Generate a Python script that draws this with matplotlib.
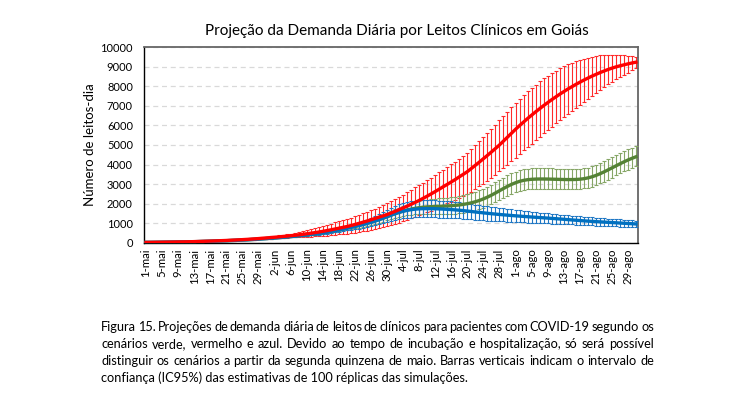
import numpy as np
import matplotlib
matplotlib.use("Agg")
import matplotlib.pyplot as plt

plt.rcParams['font.family'] = ['Lato', 'DejaVu Sans']

# one point per day, 1-mai .. 31-ago
days = np.arange(123)

tick_labels = ['1-mai', '5-mai', '9-mai', '13-mai', '17-mai', '21-mai', '25-mai', '29-mai',
               '2-jun', '6-jun', '10-jun', '14-jun', '18-jun', '22-jun', '26-jun', '30-jun',
               '4-jul', '8-jul', '12-jul', '16-jul', '20-jul', '24-jul', '28-jul',
               '1-ago', '5-ago', '9-ago', '13-ago', '17-ago', '21-ago', '25-ago', '29-ago']
yticks = [0, 1000, 2000, 3000, 4000, 5000, 6000, 7000, 8000, 9000, 10000]

# cenario vermelho
red_mean = [30, 32, 35, 38, 41, 44, 47, 50, 54, 57,
            60, 65, 71, 77, 84, 91, 98, 106, 114, 122,
            130, 140, 150, 161, 172, 184, 197, 211, 226, 243,
            260, 276, 293, 311, 330, 350, 371, 393, 416, 442,
            470, 498, 528, 560, 595, 632, 671, 712, 755, 797,
            840, 890, 945, 1000, 1060, 1120, 1185, 1250, 1320, 1385,
            1450, 1530, 1615, 1700, 1790, 1880, 1975, 2070, 2170, 2280,
            2390, 2505, 2625, 2745, 2870, 2990, 3115, 3240, 3375, 3505,
            3640, 3800, 3965, 4130, 4300, 4470, 4645, 4820, 5000, 5200,
            5400, 5600, 5800, 5990, 6170, 6350, 6520, 6690, 6850, 7010,
            7160, 7310, 7450, 7590, 7720, 7850, 7970, 8090, 8200, 8310,
            8410, 8510, 8600, 8690, 8770, 8850, 8920, 8985, 9040, 9090,
            9140, 9185, 9225]
red_err_hi = [4, 4, 4, 5, 5, 6, 6, 7, 7, 8,
              9, 10, 11, 12, 13, 15, 16, 18, 20, 22,
              24, 26, 28, 31, 34, 37, 40, 44, 48, 52,
              57, 63, 69, 75, 82, 90, 110, 125, 145, 170,
              200, 220, 240, 260, 280, 300, 320, 340, 360, 375,
              390, 405, 420, 435, 450, 465, 480, 508, 535, 563,
              590, 612, 635, 657, 680, 707, 735, 762, 790, 805,
              820, 835, 850, 862, 875, 887, 900, 915, 930, 945,
              960, 995, 1030, 1065, 1100, 1137, 1175, 1212, 1250, 1275,
              1300, 1325, 1350, 1362, 1375, 1387, 1400, 1395, 1390, 1385,
              1380, 1360, 1340, 1320, 1300, 1262, 1225, 1187, 1150, 1100,
              1050, 1000, 950, 887, 825, 760, 693, 627, 560, 490,
              420, 350, 280]
red_err_lo = [3, 3, 4, 4, 4, 5, 5, 5, 6, 6,
              7, 8, 9, 10, 11, 12, 13, 15, 16, 18,
              19, 21, 23, 25, 27, 29, 32, 35, 38, 42,
              46, 50, 55, 60, 65, 70, 80, 95, 110, 130,
              150, 170, 190, 210, 230, 252, 275, 297, 320, 345,
              370, 395, 420, 445, 470, 495, 520, 540, 560, 580,
              600, 620, 640, 660, 680, 700, 720, 740, 760, 790,
              820, 850, 880, 910, 940, 970, 1000, 1037, 1075, 1112,
              1150, 1182, 1215, 1247, 1280, 1297, 1315, 1332, 1350, 1375,
              1400, 1425, 1450, 1450, 1450, 1450, 1450, 1437, 1425, 1412,
              1400, 1375, 1350, 1325, 1300, 1262, 1225, 1187, 1150, 1100,
              1050, 1000, 950, 887, 825, 762, 700, 637, 575, 512,
              450, 365, 280]

# cenario verde
green_mean = [30, 32, 34, 37, 40, 43, 46, 49, 52, 55,
              58, 62, 67, 72, 78, 84, 90, 97, 104, 111,
              118, 126, 135, 144, 154, 164, 175, 187, 200, 214,
              228, 242, 257, 273, 290, 308, 327, 347, 368, 390,
              413, 437, 462, 490, 520, 553, 590, 635, 680, 720,
              762, 806, 852, 900, 950, 1003, 1060, 1122, 1190, 1262,
              1338, 1415, 1490, 1560, 1625, 1682, 1730, 1770, 1802, 1826,
              1843, 1855, 1864, 1872, 1880, 1890, 1903, 1920, 1942, 1970,
              2005, 2050, 2105, 2170, 2250, 2340, 2440, 2550, 2665, 2780,
              2890, 2990, 3075, 3145, 3195, 3230, 3250, 3260, 3265, 3265,
              3262, 3257, 3251, 3245, 3240, 3237, 3237, 3242, 3255, 3280,
              3320, 3375, 3445, 3530, 3625, 3725, 3830, 3935, 4040, 4140,
              4235, 4320, 4400]
green_err_hi = [2, 2, 2, 2, 3, 3, 3, 3, 3, 4,
                4, 4, 5, 5, 5, 6, 6, 7, 7, 8,
                8, 9, 10, 10, 11, 12, 13, 14, 15, 16,
                18, 19, 21, 22, 24, 26, 28, 31, 34, 37,
                40, 44, 48, 52, 56, 60, 66, 72, 78, 84,
                90, 100, 110, 120, 130, 140, 152, 164, 176, 188,
                200, 216, 232, 248, 264, 280, 298, 316, 334, 352,
                370, 380, 390, 400, 410, 420, 432, 444, 456, 468,
                480, 492, 504, 516, 528, 540, 544, 548, 552, 556,
                560, 560, 560, 560, 560, 560, 558, 556, 554, 552,
                550, 546, 542, 538, 534, 530, 530, 530, 530, 530,
                530, 532, 534, 536, 538, 540, 540, 540, 540, 540,
                540, 540, 540]
green_err_lo = [2, 2, 2, 2, 3, 3, 3, 3, 3, 4,
                4, 4, 5, 5, 5, 6, 6, 7, 7, 8,
                8, 9, 10, 10, 11, 12, 13, 14, 15, 16,
                18, 19, 21, 22, 24, 26, 28, 31, 34, 37,
                40, 44, 48, 52, 56, 60, 65, 70, 75, 80,
                85, 94, 103, 112, 121, 130, 140, 150, 160, 170,
                180, 196, 212, 228, 244, 260, 284, 308, 332, 356,
                380, 388, 396, 404, 412, 420, 424, 428, 432, 436,
                440, 444, 448, 452, 456, 460, 464, 468, 472, 476,
                480, 484, 488, 492, 496, 500, 502, 504, 506, 508,
                510, 508, 506, 504, 502, 500, 499, 498, 497, 496,
                495, 494, 493, 492, 491, 490, 490, 490, 490, 490,
                490, 490, 490]

# cenario azul
blue_mean = [30, 32, 34, 37, 40, 43, 46, 49, 52, 55,
             58, 62, 67, 72, 78, 84, 90, 97, 104, 111,
             118, 126, 135, 144, 154, 164, 175, 187, 200, 214,
             228, 242, 257, 273, 290, 308, 327, 347, 368, 390,
             413, 437, 462, 490, 520, 553, 590, 628, 670, 710,
             752, 796, 842, 890, 940, 995, 1055, 1120, 1190, 1265,
             1345, 1425, 1500, 1565, 1620, 1665, 1700, 1725, 1742, 1752,
             1755, 1753, 1748, 1740, 1730, 1718, 1705, 1690, 1672, 1652,
             1630, 1607, 1583, 1560, 1538, 1516, 1495, 1475, 1456, 1438,
             1420, 1403, 1387, 1371, 1356, 1341, 1327, 1313, 1299, 1285,
             1271, 1256, 1241, 1226, 1210, 1194, 1178, 1162, 1146, 1131,
             1117, 1104, 1091, 1079, 1067, 1055, 1043, 1031, 1019, 1007,
             995, 983, 972]
blue_err_hi = [2, 2, 2, 2, 3, 3, 3, 3, 3, 4,
               4, 4, 5, 5, 5, 6, 6, 7, 7, 8,
               8, 9, 10, 10, 11, 12, 13, 14, 15, 16,
               18, 19, 21, 22, 24, 26, 28, 31, 34, 37,
               40, 46, 52, 58, 64, 70, 80, 90, 100, 110,
               120, 136, 152, 168, 184, 200, 226, 252, 278, 304,
               330, 353, 376, 400, 410, 420, 430, 430, 430, 430,
               430, 428, 426, 424, 422, 420, 414, 408, 402, 396,
               390, 384, 378, 372, 366, 360, 352, 344, 336, 328,
               320, 312, 304, 296, 288, 280, 272, 264, 256, 248,
               240, 236, 232, 228, 224, 220, 216, 212, 208, 204,
               200, 198, 196, 194, 192, 190, 187, 184, 181, 178,
               175, 172, 170]
blue_err_lo = [2, 2, 2, 2, 3, 3, 3, 3, 3, 4,
               4, 4, 5, 5, 5, 6, 6, 7, 7, 8,
               8, 9, 10, 10, 11, 12, 13, 14, 15, 16,
               18, 19, 21, 22, 24, 26, 28, 31, 34, 37,
               40, 46, 52, 58, 64, 70, 78, 86, 94, 102,
               110, 124, 138, 152, 166, 180, 200, 220, 240, 260,
               280, 300, 320, 340, 360, 380, 400, 410, 420, 430,
               440, 440, 440, 440, 440, 440, 434, 428, 422, 416,
               410, 402, 394, 386, 378, 370, 362, 354, 346, 338,
               330, 324, 318, 312, 306, 300, 294, 288, 282, 276,
               270, 264, 258, 252, 246, 240, 234, 228, 222, 216,
               210, 206, 202, 198, 194, 190, 187, 184, 181, 178,
               175, 172, 170]

caption = ["Figura 15. Projeções de demanda diária de leitos de clínicos para pacientes com COVID-19 segundo os",
           "cenários verde, vermelho e azul. Devido ao tempo de incubação e hospitalização, só será possível",
           "distinguir os cenários a partir da segunda quinzena de maio. Barras verticais indicam o intervalo de",
           "confiança (IC95%) das estimativas de 100 réplicas das simulações."]

W, H = 751, 397
fig = plt.figure(figsize=(W / 100, H / 100), dpi=100)
ax = fig.add_axes([144 / W, 1 - 243 / H, (638 - 144) / W, (243 - 47) / H])

# error bars first, lines on top
ax.errorbar(days, red_mean, yerr=[red_err_lo, red_err_hi], fmt='none',
            ecolor='#FF2A2A', elinewidth=0.8, capsize=1.7, capthick=0.8, zorder=2)
ax.errorbar(days, green_mean, yerr=[green_err_lo, green_err_hi], fmt='none',
            ecolor='#86A666', elinewidth=0.8, capsize=1.7, capthick=0.8, zorder=3)
ax.errorbar(days, blue_mean, yerr=[blue_err_lo, blue_err_hi], fmt='none',
            ecolor='#1F77C4', elinewidth=0.8, capsize=1.7, capthick=0.8, zorder=4)
ax.plot(days, green_mean, color='#548235', lw=2.4, zorder=5)
ax.plot(days, blue_mean, color='#0070C0', lw=2.4, zorder=6)
ax.plot(days, red_mean, color='#FF0000', lw=2.4, zorder=7)

ax.set_xlim(-0.5, 122.5)
ax.set_ylim(0, 10000)
ax.set_yticks(yticks)
ax.set_yticklabels([str(v) for v in yticks], fontsize=8)
ax.set_xticks(days[::4])
ax.set_xticklabels(tick_labels, rotation=90, fontsize=8.2)
ax.tick_params(axis='y', length=0, pad=8)
ax.tick_params(axis='x', length=0, pad=4)
ax.yaxis.grid(True, color='#D9D9D9', linestyle=(0, (4, 3)), lw=0.9)
ax.set_axisbelow(True)
for s in ['left', 'bottom']:
    ax.spines[s].set_color('black')
    ax.spines[s].set_linewidth(1)
for s in ['top', 'right']:
    ax.spines[s].set_color('#666666')
    ax.spines[s].set_linewidth(1.3)
ax.set_ylabel('Número de leitos-dia', fontsize=9.5, labelpad=3)

fig.text(397 / W, 1 - 31 / H, 'Projeção da Demanda Diária por Leitos Clínicos em Goiás',
         ha='center', va='center', fontsize=11)

# caption, justified like the report text
x0, x1 = 101, 654
fig.canvas.draw()
r = fig.canvas.get_renderer()
for i, line in enumerate(caption):
    y = 1 - (327 + 17 * i) / H
    if i == len(caption) - 1:
        fig.text(x0 / W, y, line, fontsize=9.2, va='center', ha='left')
        continue
    words = line.split()
    objs = [fig.text(0, y, w, fontsize=9.2, va='center', ha='left') for w in words]
    widths = [o.get_window_extent(r).width for o in objs]
    gap = (x1 - x0 - sum(widths)) / (len(words) - 1)
    x = x0
    for o, w in zip(objs, widths):
        o.set_x(x / W)
        x += w + gap

fig.savefig('out.png', dpi=100)
